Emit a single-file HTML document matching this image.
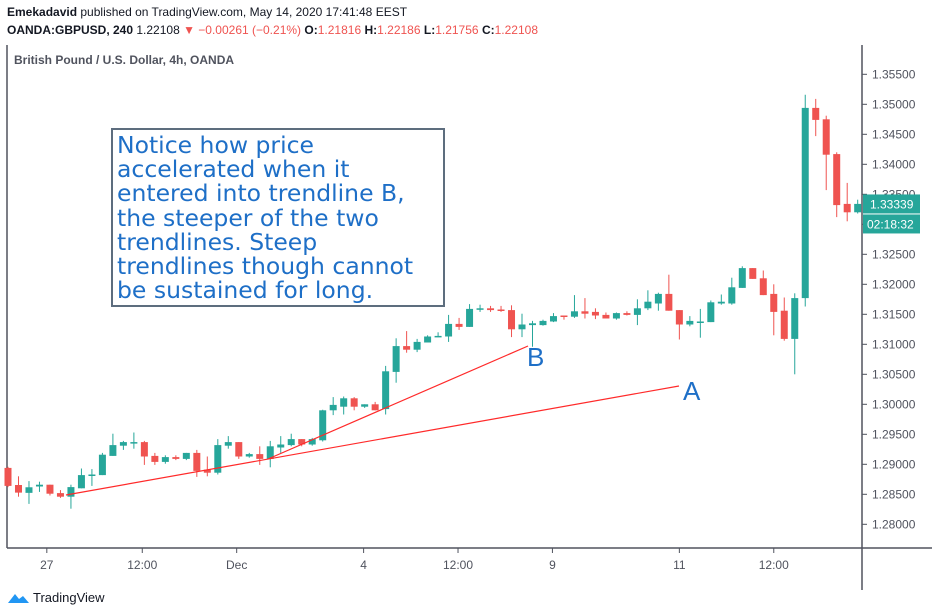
<!DOCTYPE html>
<html><head><meta charset="utf-8"><style>
body{margin:0;background:#fff;font-family:"Liberation Sans",sans-serif;}
#wrap{position:relative;width:932px;height:615px;overflow:hidden;background:#fff}
.hdr{position:absolute;left:7px;font-size:12px;color:#131722;white-space:nowrap}
</style></head><body>
<div id="wrap">
<div class="hdr" style="top:5px"><b>Emekadavid</b> published on TradingView.com, May 14, 2020 17:41:48 EEST</div>
<div class="hdr" style="top:23px"><b>OANDA:GBPUSD, 240</b> 1.22108 <span style="color:#ef5350">▼ −0.00261 (−0.21%)</span> <b>O:</b><span style="color:#ef5350">1.21816</span> <b>H:</b><span style="color:#ef5350">1.22186</span> <b>L:</b><span style="color:#ef5350">1.21756</span> <b>C:</b><span style="color:#ef5350">1.22108</span></div>
<svg id="svg" width="932" height="615" style="position:absolute;left:0;top:0"></svg>
<div style="position:absolute;left:111px;top:128px;width:326px;height:172px;border:2px solid #5d6d7e;background:#fff;color:#1e6fc7;font-family:'DejaVu Sans',sans-serif;font-size:23.5px;line-height:24.2px;padding:3px 0 0 4px;box-sizing:content-box;white-space:nowrap;overflow:hidden">Notice how price<br>accelerated when it<br>entered into trendline B,<br>the steeper of the two<br>trendlines. Steep<br>trendlines though cannot<br>be sustained for long.</div>
</div>
<script>
const opens=[1.2894,1.28655,1.28524,1.2863,1.2866,1.2852,1.2846,1.2860,1.2881,1.2882,1.2914,1.2931,1.2935,1.2937,1.2914,1.2904,1.2912,1.2909,1.2919,1.2891,1.2886,1.2931,1.2937,1.2913,1.2917,1.2909,1.2928,1.2932,1.2942,1.2933,1.2940,1.2990,1.2996,1.3010,1.2996,1.3000,1.2992,1.3054,1.3097,1.3091,1.3103,1.3112,1.3113,1.3134,1.3129,1.3158,1.3160,1.3158,1.3157,1.3125,1.3132,1.3132,1.3138,1.3148,1.3146,1.3155,1.3154,1.3149,1.3143,1.3152,1.3149,1.3160,1.3168,1.3184,1.3157,1.3133,1.3137,1.3137,1.3168,1.3168,1.3194,1.3227,1.3210,1.3184,1.3156,1.3109,1.3177,1.3494,1.3475,1.3417,1.3334,1.3320];
const highs=[1.2896,1.2880,1.2872,1.2871,1.2866,1.2857,1.2866,1.2893,1.2892,1.2919,1.2951,1.2939,1.2953,1.2939,1.2919,1.2915,1.2915,1.2919,1.2924,1.2913,1.2942,1.2947,1.2937,1.2919,1.2930,1.2939,1.2947,1.2951,1.2942,1.2944,1.2991,1.3012,1.3013,1.3012,1.3000,1.3004,1.3064,1.3110,1.3122,1.3109,1.3115,1.3120,1.3149,1.3144,1.3167,1.3166,1.3164,1.3164,1.3165,1.3151,1.3139,1.3141,1.3152,1.3148,1.3182,1.3177,1.3160,1.3153,1.3153,1.3155,1.3175,1.3190,1.3186,1.3216,1.3157,1.3147,1.3159,1.3173,1.3183,1.3211,1.3230,1.3227,1.3223,1.3200,1.3178,1.3185,1.3516,1.3509,1.3481,1.3420,1.3369,1.3341];
const lows=[1.2862,1.2846,1.2834,1.2854,1.2848,1.2844,1.2826,1.2860,1.2864,1.2882,1.2914,1.2924,1.2926,1.2899,1.2899,1.2901,1.2907,1.2907,1.2879,1.2880,1.2883,1.2926,1.2909,1.2911,1.2899,1.2895,1.2919,1.2930,1.2930,1.2931,1.2938,1.2982,1.2983,1.2990,1.2994,1.2990,1.2983,1.3036,1.3086,1.3087,1.3103,1.3112,1.3104,1.3124,1.3129,1.3154,1.3154,1.3154,1.3112,1.3112,1.3096,1.3131,1.3137,1.3141,1.3144,1.3143,1.3142,1.3143,1.3141,1.3148,1.3132,1.3157,1.3156,1.3156,1.3108,1.3130,1.3111,1.3137,1.3166,1.3166,1.3194,1.3209,1.3182,1.3115,1.3106,1.3050,1.3163,1.3447,1.3357,1.3312,1.3305,1.3318];
const closes=[1.2864,1.28528,1.28617,1.2866,1.2851,1.2846,1.2862,1.2882,1.2883,1.2916,1.2932,1.2937,1.2937,1.2913,1.2904,1.2912,1.2909,1.2919,1.2889,1.2886,1.2932,1.2937,1.2913,1.2917,1.2909,1.2930,1.2933,1.2942,1.2933,1.2942,1.2990,1.2999,1.3010,1.2996,1.3000,1.2990,1.3055,1.3097,1.3091,1.3104,1.3113,1.3114,1.3134,1.3129,1.3159,1.3160,1.3157,1.3157,1.3125,1.3133,1.3135,1.3139,1.3147,1.3146,1.3155,1.3151,1.3148,1.3143,1.3152,1.3149,1.3160,1.3171,1.3184,1.3156,1.3133,1.3139,1.3138,1.3170,1.3171,1.3195,1.3227,1.3209,1.3182,1.3154,1.3109,1.3177,1.3494,1.3474,1.3416,1.3332,1.3320,1.3334];
const priceTicks=[1.355,1.35,1.345,1.34,1.335,1.33,1.325,1.32,1.315,1.31,1.305,1.30,1.295,1.29,1.285,1.28];
const timeLabels=["27","12:00","Dec","4","12:00","9","11","12:00"];
const timeIdx=[3.7,12.8,21.8,33.9,42.9,51.9,64,73];
const lastPrice=1.33339;
const NS="http://www.w3.org/2000/svg",svg=document.getElementById('svg');
const yS=p=>104.3+(1.35-p)*6000;
const xS=i=>8+i*10.49;
function mk(t,a){const e=document.createElementNS(NS,t);for(const k in a)e.setAttribute(k,a[k]);svg.appendChild(e);return e;}
let e;
e=mk('line',{x1:7,y1:45,x2:7,y2:548,stroke:'#50535e','stroke-width':1.5});


e=mk('line',{x1:862,y1:45,x2:862,y2:590,stroke:'#50535e','stroke-width':1.5});


e=mk('line',{x1:7,y1:548,x2:932,y2:548,stroke:'#50535e','stroke-width':1.5});


e=mk('text',{x:14,y:64,'font-size':12,'font-weight':'bold',fill:'#50535e','font-family':'Liberation Sans'});
e.textContent='British Pound / U.S. Dollar, 4h, OANDA';


priceTicks.forEach(p=>{
 const y=yS(p);
 const t=mk('line',{x1:862,y1:y,x2:867,y2:y,stroke:'#50535e'});
 
 
 const l=mk('text',{x:872,y:y+4,'font-size':12,fill:'#50535e','font-family':'Liberation Sans'});
 l.textContent=p.toFixed(5);
 
 
});
timeLabels.forEach((s,k)=>{
 const x=xS(timeIdx[k]);
 const t=mk('line',{x1:x,y1:548,x2:x,y2:553,stroke:'#50535e'});
 
 
 const l=mk('text',{x:x,y:569,'font-size':12,fill:'#50535e','text-anchor':'middle','font-family':'Liberation Sans'});
 l.textContent=s;
 
 
});
opens.forEach((o,i)=>{
 const c=closes[i],col=c>=o?'#26a69a':'#ef5350',x=xS(i);
 const w=mk('line',{x1:x,y1:yS(highs[i]),x2:x,y2:yS(lows[i]),stroke:col,'stroke-width':1});
 
 
 const top=yS(Math.max(o,c)),h=Math.max(1.5,Math.abs(yS(o)-yS(c)));
 const b=mk('rect',{x:x-3.5,y:top,width:7,height:h,fill:col});
 
 
});
e=mk('line',{x1:66,y1:495,x2:679,y2:386,stroke:'#ff2a2a','stroke-width':1.2});


e=mk('line',{x1:268,y1:459,x2:528,y2:346,stroke:'#ff2a2a','stroke-width':1.2});


e=mk('text',{x:683,y:400,'font-size':26,fill:'#1e6fc7','font-family':'Liberation Sans'});
e.textContent='A';


e=mk('text',{x:527,y:366,'font-size':26,fill:'#1e6fc7','font-family':'Liberation Sans'});
e.textContent='B';


const ly=yS(lastPrice);
e=mk('rect',{x:863,y:ly-9.5,width:57,height:19,fill:'#26a69a'});


e=mk('text',{x:870,y:ly+4.5,'font-size':12,fill:'#fff','font-family':'Liberation Sans'});
e.textContent=lastPrice.toFixed(5);


e=mk('rect',{x:863,y:ly+10.5,width:57,height:19,fill:'#26a69a'});


e=mk('text',{x:867,y:ly+24.5,'font-size':12,fill:'#fff','font-family':'Liberation Sans'});
e.textContent='02:18:32';


e=mk('path',{d:'M8 603 l7 -9 l4 5 l4 -3 l6 7 z',fill:'#2196f3'});


e=mk('text',{x:33,y:602,'font-size':13,fill:'#131722','font-family':'Liberation Sans'});
e.textContent='TradingView';


</script>
</body></html>
